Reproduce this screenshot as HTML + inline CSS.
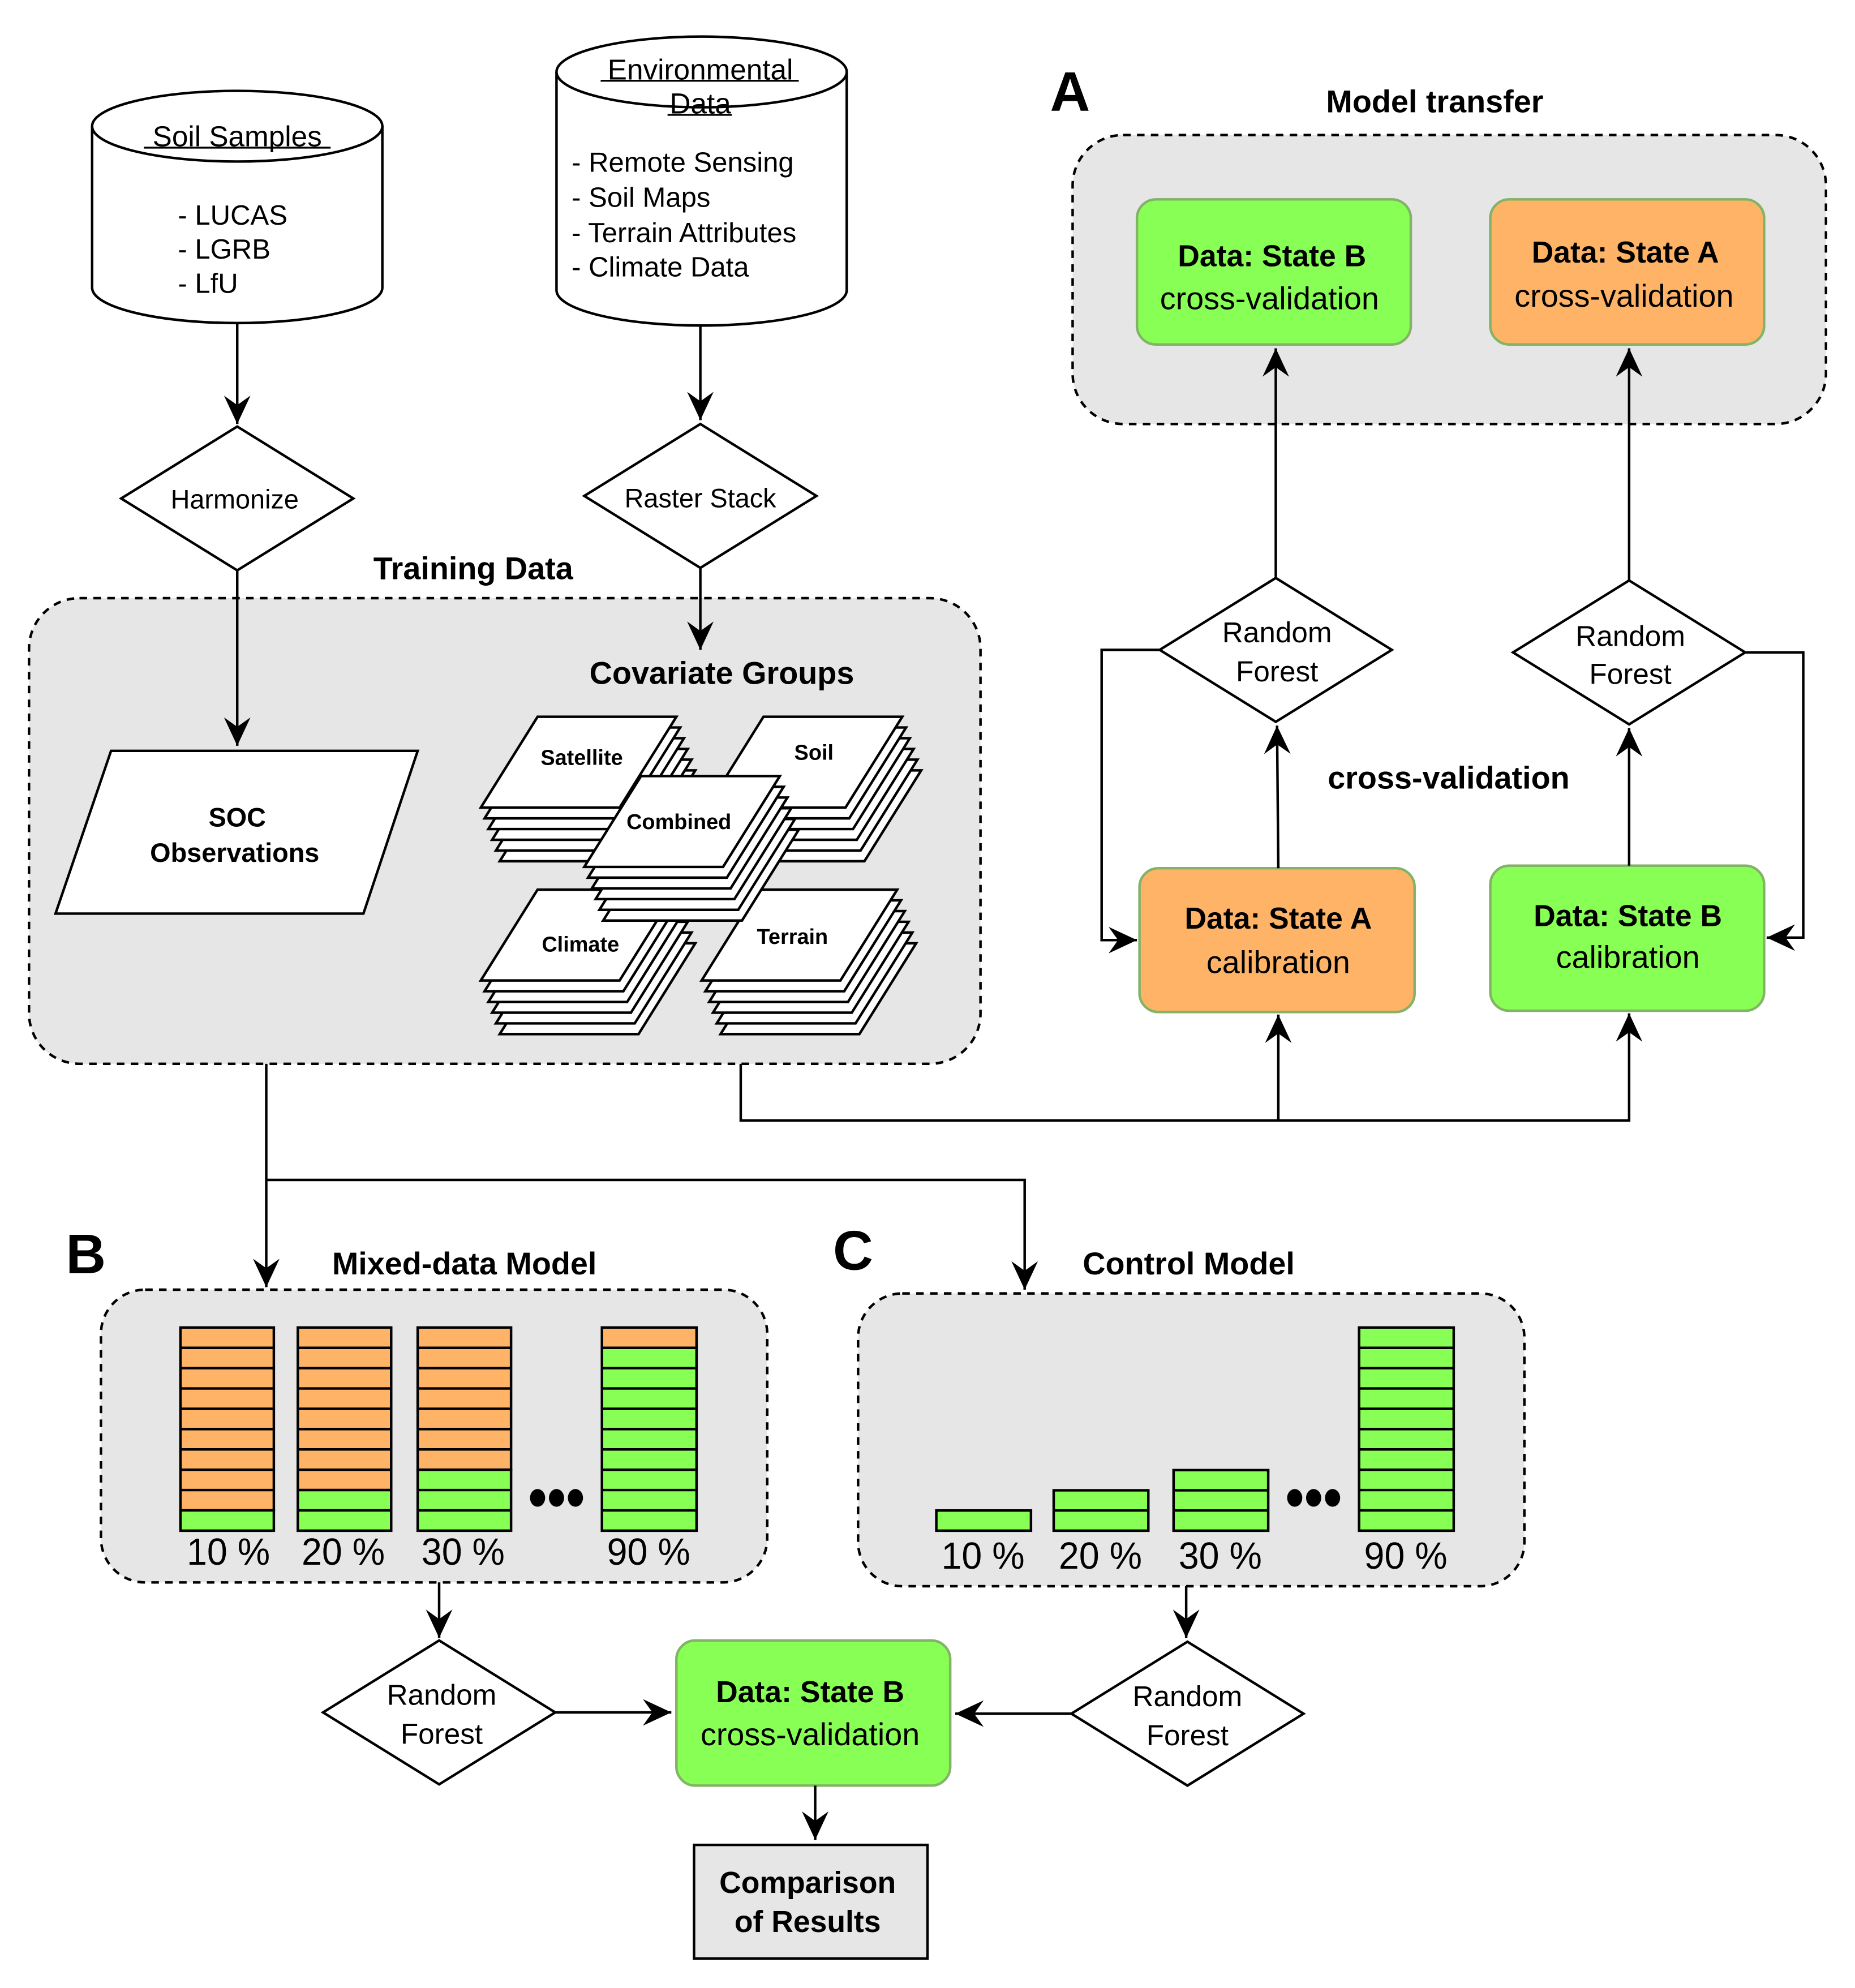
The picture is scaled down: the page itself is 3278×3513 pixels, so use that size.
<!DOCTYPE html>
<html><head><meta charset="utf-8"><style>
html,body{margin:0;padding:0;background:#fff}
svg{display:block}
text{font-family:"Liberation Sans",sans-serif;fill:#000}
</style></head><body>
<svg width="3278" height="3513" viewBox="0 0 1470 1575.4" preserveAspectRatio="none" xmlns="http://www.w3.org/2000/svg">
<defs>
<marker id="a" markerUnits="userSpaceOnUse" markerWidth="30" markerHeight="30" refX="0" refY="0" viewBox="-16 -10 20 20" orient="auto">
<path d="M0,0 L-15,-7 L-10,0 L-15,7 Z" fill="#000"/>
</marker>
<g id="sheet"><path d="M45,0 L155,0 L110,72 L0,72 Z" fill="#fff" stroke="#000" stroke-width="2"/></g>
<g id="stack">
<use href="#sheet" x="15" y="42.5"/><use href="#sheet" x="12" y="34"/><use href="#sheet" x="9" y="25.5"/><use href="#sheet" x="6" y="17"/><use href="#sheet" x="3" y="8.5"/><use href="#sheet" x="0" y="0"/>
</g>
</defs>
<rect width="1470" height="1575.4" fill="#fff"/>
<g stroke="#000" stroke-width="2" fill="none">
<!-- cylinders -->
<path d="M73,100 L73,228 A115,28 0 0 0 303,228 L303,100" fill="#fff"/>
<ellipse cx="188" cy="100" rx="115" ry="28" fill="#fff"/>
<path d="M441,57 L441,230 A115,28 0 0 0 671,230 L671,57" fill="#fff"/>
<ellipse cx="556" cy="57" rx="115" ry="28" fill="#fff"/>
<!-- arrows top -->
<line x1="188" y1="256" x2="188" y2="336" marker-end="url(#a)"/>
<line x1="555" y1="259" x2="555" y2="333" marker-end="url(#a)"/>
<path d="M188,338 L280,395 L188,452 L96,395 Z" fill="#fff"/>
<path d="M555,336 L647,393 L555,450 L463,393 Z" fill="#fff"/>
<!-- training box -->
<rect x="23" y="474" width="754" height="369" rx="40" fill="#e6e6e6" stroke-dasharray="6,5"/>
<line x1="188" y1="452" x2="188" y2="591" marker-end="url(#a)"/>
<line x1="555" y1="450" x2="555" y2="515" marker-end="url(#a)"/>
<path d="M88,595 L331,595 L288,724 L44,724 Z" fill="#fff"/>
</g>
<use href="#stack" x="381" y="568"/>
<use href="#stack" x="560" y="568"/>
<use href="#stack" x="381" y="705"/>
<use href="#stack" x="556" y="705"/>
<use href="#stack" x="463" y="615"/>
<g stroke="#000" stroke-width="2" fill="none">
<!-- model transfer -->
<rect x="850" y="107" width="597" height="229" rx="40" fill="#e6e6e6" stroke-dasharray="6,5"/>
<rect x="901" y="158" width="217" height="115" rx="15" fill="#88ff55" stroke="#82b366"/>
<rect x="1181" y="158" width="217" height="115" rx="15" fill="#ffb366" stroke="#82b366"/>
<line x1="1011" y1="457" x2="1011" y2="276" marker-end="url(#a)"/>
<line x1="1291" y1="460" x2="1291" y2="276" marker-end="url(#a)"/>
<path d="M1011,458 L1103,515 L1011,572 L919,515 Z" fill="#fff"/>
<path d="M1291,460 L1383,517 L1291,574 L1199,517 Z" fill="#fff"/>
<rect x="903" y="688" width="218" height="114" rx="15" fill="#ffb366" stroke="#82b366"/>
<rect x="1181" y="686" width="217" height="115" rx="15" fill="#88ff55" stroke="#82b366"/>
<line x1="1013" y1="688" x2="1012" y2="575" marker-end="url(#a)"/>
<line x1="1291" y1="686" x2="1291" y2="577" marker-end="url(#a)"/>
<path d="M919,515 L873,515 L873,745 L901,745" marker-end="url(#a)"/>
<path d="M1383,517 L1429,517 L1429,743 L1400,743" marker-end="url(#a)"/>
<path d="M587,843 L587,888 L1291,888 L1291,803" marker-end="url(#a)"/>
<line x1="1013" y1="888" x2="1013" y2="804" marker-end="url(#a)"/>
<line x1="211" y1="843" x2="211" y2="1020" marker-end="url(#a)"/>
<path d="M211,935 L812,935 L812,1022" marker-end="url(#a)"/>
<!-- B / C boxes -->
<rect x="80" y="1022" width="528" height="232" rx="35" fill="#e6e6e6" stroke-dasharray="6,5"/>
<rect x="680" y="1025" width="528" height="232" rx="35" fill="#e6e6e6" stroke-dasharray="6,5"/>
</g>
<g stroke="#000" stroke-width="2">
<!-- B bars -->
<g fill="#ffb366">
<rect x="143" y="1052" width="74" height="144.9"/>
<rect x="236" y="1052" width="74" height="128.8"/>
<rect x="331" y="1052" width="74" height="112.7"/>
<rect x="477" y="1052" width="75" height="16.1"/>
</g>
<g fill="#88ff55">
<rect x="143" y="1196.9" width="74" height="16.1"/>
<rect x="236" y="1180.8" width="74" height="32.2"/>
<rect x="331" y="1164.7" width="74" height="48.3"/>
<rect x="477" y="1068.1" width="75" height="144.9"/>
<rect x="742" y="1197" width="75" height="16"/>
<rect x="835" y="1181" width="75" height="32"/>
<rect x="930" y="1165" width="75" height="48"/>
<rect x="1077" y="1052" width="75" height="161"/>
</g>
<path d="M143,1068.1h74M143,1084.2h74M143,1100.3h74M143,1116.4h74M143,1132.5h74M143,1148.6h74M143,1164.7h74M143,1180.8h74
M236,1068.1h74M236,1084.2h74M236,1100.3h74M236,1116.4h74M236,1132.5h74M236,1148.6h74M236,1164.7h74M236,1196.9h74
M331,1068.1h74M331,1084.2h74M331,1100.3h74M331,1116.4h74M331,1132.5h74M331,1148.6h74M331,1180.8h74M331,1196.9h74
M477,1084.2h75M477,1100.3h75M477,1116.4h75M477,1132.5h75M477,1148.6h75M477,1164.7h75M477,1180.8h75M477,1196.9h75
M835,1197h75M930,1181h75M930,1197h75
M1077,1068.1h75M1077,1084.2h75M1077,1100.3h75M1077,1116.4h75M1077,1132.5h75M1077,1148.6h75M1077,1164.7h75M1077,1180.8h75M1077,1196.9h75" fill="none"/>
</g>
<g fill="#000">
<ellipse cx="426" cy="1187" rx="6" ry="7"/><ellipse cx="441" cy="1187" rx="6" ry="7"/><ellipse cx="456" cy="1187" rx="6" ry="7"/>
<ellipse cx="1026" cy="1187" rx="6" ry="7"/><ellipse cx="1041" cy="1187" rx="6" ry="7"/><ellipse cx="1056" cy="1187" rx="6" ry="7"/>
</g>
<g stroke="#000" stroke-width="2" fill="none">
<line x1="348" y1="1254" x2="348" y2="1298" marker-end="url(#a)"/>
<line x1="940" y1="1257" x2="940" y2="1298" marker-end="url(#a)"/>
<path d="M348,1300 L440,1357 L348,1414 L256,1357 Z" fill="#fff"/>
<path d="M941,1301 L1033,1358 L941,1415 L849,1358 Z" fill="#fff"/>
<rect x="536" y="1300" width="217" height="115" rx="15" fill="#88ff55" stroke="#82b366"/>
<line x1="440" y1="1357" x2="532" y2="1357" marker-end="url(#a)"/>
<line x1="849" y1="1358" x2="757" y2="1358" marker-end="url(#a)"/>
<line x1="646" y1="1415" x2="646" y2="1458" marker-end="url(#a)"/>
<rect x="550" y="1462" width="185" height="90" fill="#e6e6e6"/>
</g>
<!-- underlines -->
<g stroke="#000" stroke-width="1.5">
<line x1="114" y1="117" x2="262" y2="117"/>
<line x1="476" y1="64" x2="633" y2="64"/>
<line x1="529" y1="91" x2="580" y2="91"/>
</g>
<!-- text -->
<g font-size="23" text-anchor="middle">
<text x="188" y="116">Soil Samples</text>
<text x="555" y="63">Environmental</text>
<text x="555" y="90">Data</text>
<text x="186" y="403" font-size="21">Harmonize</text>
<text x="555" y="402" font-size="21">Raster Stack</text>
</g>
<g font-size="22">
<text x="141" y="178">- LUCAS</text>
<text x="141" y="205">- LGRB</text>
<text x="141" y="232">- LfU</text>
<text x="453" y="136">- Remote Sensing</text>
<text x="453" y="164">- Soil Maps</text>
<text x="453" y="192">- Terrain Attributes</text>
<text x="453" y="219">- Climate Data</text>
</g>
<g font-weight="bold" text-anchor="middle">
<text x="375" y="459" font-size="25">Training Data</text>
<text x="572" y="542" font-size="25">Covariate Groups</text>
<text x="188" y="655" font-size="21">SOC</text>
<text x="186" y="683" font-size="21">Observations</text>
<text x="1137" y="89" font-size="25">Model transfer</text>
<text x="1148" y="625" font-size="25">cross-validation</text>
<text x="368" y="1010" font-size="25">Mixed-data Model</text>
<text x="942" y="1010" font-size="25">Control Model</text>
<text x="848" y="88" font-size="44">A</text>
<text x="68" y="1009" font-size="44">B</text>
<text x="676" y="1006" font-size="44">C</text>
<text x="640" y="1500" font-size="24">Comparison</text>
<text x="640" y="1531" font-size="24">of Results</text>
<g font-size="24">
<text x="1008" y="211">Data: State B</text>
<text x="1288" y="208">Data: State A</text>
<text x="1013" y="736">Data: State A</text>
<text x="1290" y="734">Data: State B</text>
<text x="642" y="1349">Data: State B</text>
</g>
<g font-size="17">
<text x="461" y="606">Satellite</text>
<text x="645" y="602">Soil</text>
<text x="538" y="657">Combined</text>
<text x="460" y="754">Climate</text>
<text x="628" y="748">Terrain</text>
</g>
</g>
<g font-size="25" text-anchor="middle">
<text x="1006" y="245">cross-validation</text>
<text x="1287" y="243">cross-validation</text>
<text x="1013" y="771">calibration</text>
<text x="1290" y="767">calibration</text>
<text x="642" y="1383">cross-validation</text>
</g>
<g font-size="23" text-anchor="middle">
<text x="1012" y="509">Random</text><text x="1012" y="540">Forest</text>
<text x="1292" y="512">Random</text><text x="1292" y="542">Forest</text>
<text x="350" y="1351">Random</text><text x="350" y="1382">Forest</text>
<text x="941" y="1352">Random</text><text x="941" y="1383">Forest</text>
</g>
<g font-size="30" text-anchor="middle">
<text x="181" y="1240" textLength="66" lengthAdjust="spacingAndGlyphs">10 %</text>
<text x="272" y="1240" textLength="66" lengthAdjust="spacingAndGlyphs">20 %</text>
<text x="367" y="1240" textLength="66" lengthAdjust="spacingAndGlyphs">30 %</text>
<text x="514" y="1240" textLength="66" lengthAdjust="spacingAndGlyphs">90 %</text>
<text x="779" y="1243" textLength="66" lengthAdjust="spacingAndGlyphs">10 %</text>
<text x="872" y="1243" textLength="66" lengthAdjust="spacingAndGlyphs">20 %</text>
<text x="967" y="1243" textLength="66" lengthAdjust="spacingAndGlyphs">30 %</text>
<text x="1114" y="1243" textLength="66" lengthAdjust="spacingAndGlyphs">90 %</text>
</g>
</svg>
</body></html>
